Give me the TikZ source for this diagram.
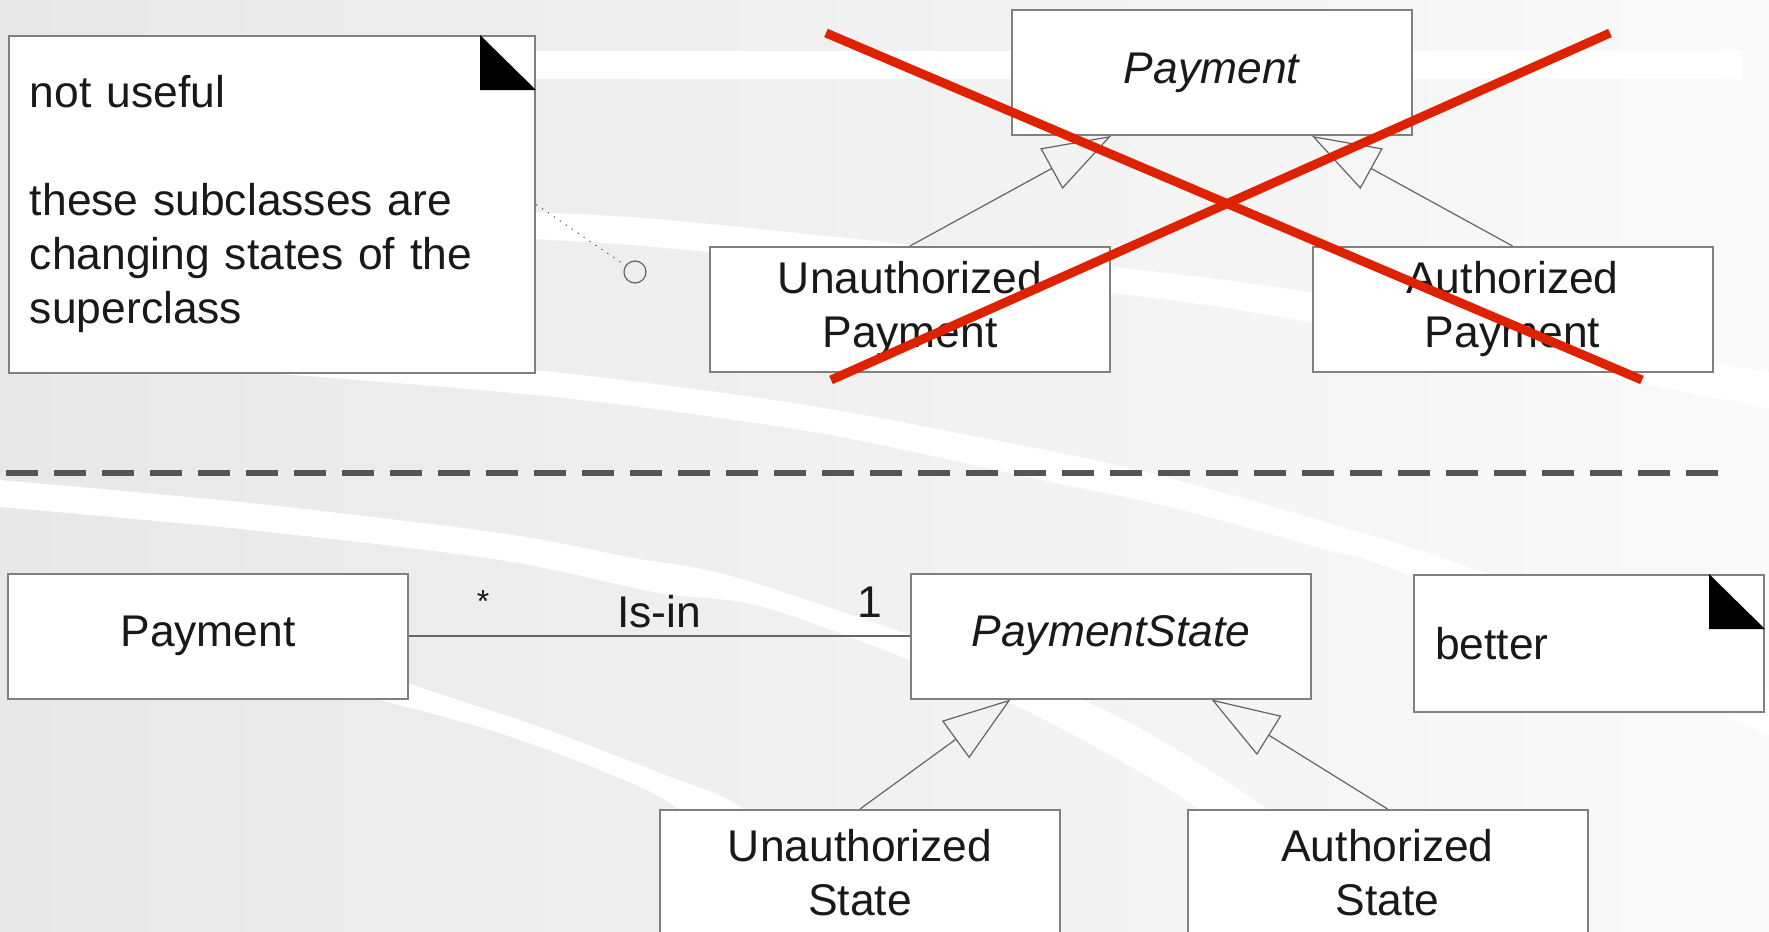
\documentclass[tikz,border=0pt]{standalone}
\usepackage{fontspec}
\setmainfont{Liberation Sans}
\usetikzlibrary{arrows.meta,calc}

\definecolor{bgleft}{RGB}{232,232,232}
\definecolor{bgright}{RGB}{250,250,250}
\definecolor{boxgray}{RGB}{128,128,128}
\definecolor{linegray}{RGB}{100,100,100}
\definecolor{dashgray}{RGB}{85,85,85}
\definecolor{crossred}{RGB}{222,34,0}

\newcommand{\umlfont}{\fontsize{22.2pt}{27pt}\selectfont}

\tikzset{
  cls/.style={draw=boxgray,fill=white,line width=1pt,minimum width=200pt,
    minimum height=62.5pt,inner sep=0pt,align=center,text=black!90,font=\umlfont},
  note/.style={draw=boxgray,fill=white,line width=1pt,anchor=north west,
    inner xsep=10.5pt,inner ysep=0pt,align=left,text=black!90,font=\umlfont},
  gen/.style={draw=linegray,line width=0.6pt,-{Triangle[open,length=34pt,width=23pt]}},
  assoc/.style={draw=linegray,line width=0.6pt},
  band/.style={fill=white},
  lbl/.style={text=black!90,font=\umlfont,inner sep=0pt}
}

\begin{document}
\begin{tikzpicture}[x=0.5pt,y=-0.5pt]

  \useasboundingbox (0,0) rectangle (1769,932);
  \shade[left color=bgleft,right color=bgright] (0,0) rectangle (1769,932);

  \fill[band] (300,51) rectangle (1742,79);
  \fill[band] plot[smooth] coordinates {(300,204) (533,212) (700,223) (1113,267) (1314,293) (1769,372)}
    -- plot[smooth] coordinates {(1769,408) (1314,323) (1113,293) (700,251) (533,239) (300,230)} -- cycle;
  \fill[band] plot[smooth] coordinates {(150,350) (300,358) (532,370) (787,402) (978,437) (1138,470) (1329,523) (1476,570) (1769,690)}
    -- plot[smooth] coordinates {(1769,735) (1412,577) (1316,547) (1170,507) (1042,480) (819,433) (564,398) (282,374) (150,365)} -- cycle;
  \fill[band] plot[smooth] coordinates {(0,480) (250,503) (500,533) (628,557) (755,583) (1083,700) (1264,807) (1360,900)}
    -- plot[smooth] coordinates {(1290,900) (1196,807) (1004,700) (774,610) (659,593) (500,560) (250,530) (0,507)} -- cycle;
  \fill[band] plot[smooth] coordinates {(300,640) (408,683) (540,727) (660,773) (745,810) (830,900)}
    -- plot[smooth] coordinates {(770,900) (680,810) (600,770) (490,730) (380,700) (300,678)} -- cycle;

  \draw[dashgray,line width=2.7pt,dash pattern=on 16pt off 8pt] (6,473) -- (1718,473);

  \node[note,text width=242pt,minimum height=168.5pt] (useless) at (8,35)
    {not useful\\[27pt]these subclasses are\\changing states of the\\superclass};
  \fill[black] ([xshift=-28pt]useless.north east) -- ++(0,55) -- ++(56,0) -- cycle;
  \node[circle,draw=linegray,line width=0.6pt,minimum size=11pt,inner sep=0pt] (hook) at (635,272) {};
  \draw[linegray,line width=0.6pt,dash pattern=on 0.6pt off 3pt] (useless.east) -- (hook);

  \node[cls] (pay) at (1211.5,72.5) {\itshape Payment};
  \node[cls] (upay) at (910,309.5) {Unauthorized\\Payment};
  \node[cls] (apay) at (1512.5,309.5) {Authorized\\Payment};

  \node[cls] (bpay) at (208,636) {Payment};
  \node[cls] (pstate) at (1111,636) {\itshape PaymentState};
  \node[cls] (ustate) at (860,872.5) {Unauthorized\\State};
  \node[cls] (astate) at (1387.5,872.5) {Authorized\\State};

  \node[note,text width=154pt,minimum height=68.5pt] (better) at (1413,574) {better};
  \fill[black] ([xshift=-28pt]better.north east) -- ++(0,55) -- ++(56,0) -- cycle;

  \draw[assoc] (bpay) -- (pstate);
  \node[lbl,anchor=base,font=\fontsize{16pt}{18pt}\selectfont] (many) at (483,612) {*};
  \node[lbl,anchor=base] (isin) at (659,627) {Is-in};
  \node[lbl,anchor=base] (one) at (870,617) {1};

  \foreach \child/\parent/\pos in {upay/pay/0.25,apay/pay/0.75,ustate/pstate/0.25,astate/pstate/0.75} {
    \draw[gen] (\child.north) -- ($(\parent.south west)!\pos!(\parent.south east)$);
  }

  \foreach \a/\b in {826/1642,1610/831} {
    \draw[crossred,line width=4.5pt] (\a,33) -- (\b,380);
  }

\end{tikzpicture}
\end{document}
